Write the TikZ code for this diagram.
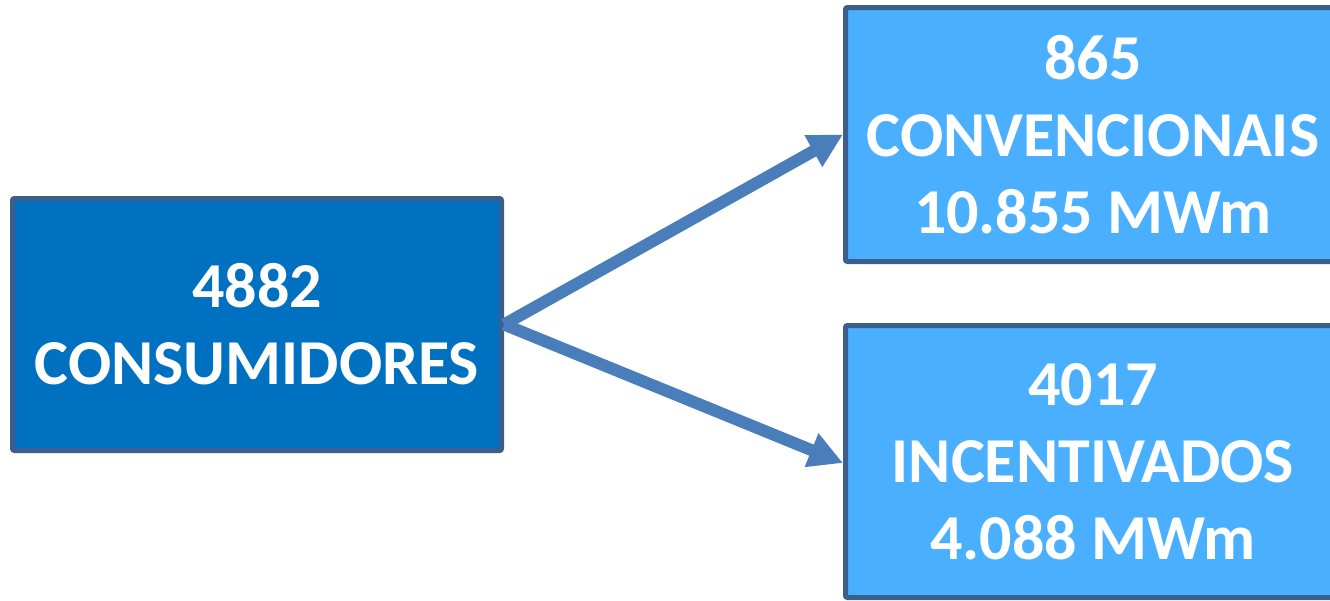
\documentclass[tikz,border=0pt]{standalone}
\usepackage{fontspec}
\setmainfont{Carlito}
\usepackage{tikz}
\usepackage{xcolor}
\usetikzlibrary{arrows.meta,positioning}
\definecolor{boxline}{HTML}{3B5E8C}
\definecolor{darkfill}{HTML}{0070C0}
\definecolor{lightfill}{HTML}{4BAFFF}
\definecolor{arrowblue}{HTML}{4A7EBB}
\tikzset{
    count-box/.style = {draw=boxline, line width=5pt, rectangle, rounded corners=2pt, text=white, align=center,
                        font=\fontsize{64}{77}\selectfont\bfseries, inner sep=0pt},
    total-box/.style = {count-box, fill=darkfill, minimum width=489pt, minimum height=252pt},
    part-box/.style = {count-box, fill=lightfill, minimum width=495pt},
    split-arrow/.style = {draw=arrowblue, line width=12pt, -{Triangle[length=34pt,width=34pt]}},
}

\begin{document}
\begin{tikzpicture}[x=1pt,y=-1pt]
\useasboundingbox (0,0) rectangle (1330,600);
\clip (0,0) rectangle (1330,600);
\node [total-box] (total) at (257,324.5) {4882\\CONSUMIDORES};
\node [part-box, minimum height=254pt] (conv) at (1093,134.5) {865\\CONVENCIONAIS\\10.855 MWm};
\node [part-box, minimum height=272pt] (incent) at (1093,461.5) {4017\\INCENTIVADOS\\4.088 MWm};
\draw [split-arrow] (total.east) -- (conv.west);
\draw [split-arrow] (total.east) -- ([yshift=-1.5pt]incent.west);
\end{tikzpicture}
\end{document}
